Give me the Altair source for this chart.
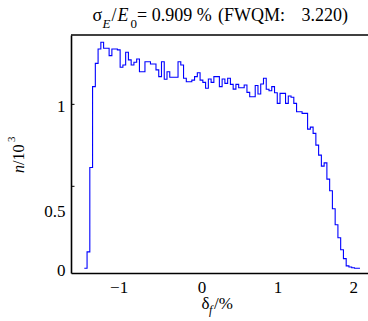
import altair as alt
import numpy as np
import pandas as pd

# histogram counts (n / 10^3), 100 bins
counts = [0.0, 0.10, 0.615, 1.108, 1.250, 1.338, 1.379, 1.342, 1.342, 1.297,
          1.338, 1.338, 1.332, 1.226, 1.240, 1.318, 1.271, 1.240, 1.257, 1.277,
          1.199, 1.199, 1.260, 1.260, 1.246, 1.246, 1.210, 1.169, 1.260, 1.153,
          1.199, 1.165, 1.165, 1.165, 1.260, 1.240, 1.159, 1.138, 1.138, 1.148,
          1.169, 1.193, 1.148, 1.134, 1.098, 1.155, 1.134, 1.169, 1.169, 1.108,
          1.155, 1.128, 1.159, 1.122, 1.093, 1.122, 1.101, 1.101, 1.118, 1.073,
          1.046, 1.046, 1.115, 1.063, 1.124, 1.159, 1.092, 1.083, 1.108, 1.071,
          1.006, 1.067, 1.067, 1.006, 1.051, 1.043, 1.006, 0.955, 0.955, 0.945,
          0.945, 0.849, 0.861, 0.823, 0.751, 0.690, 0.623, 0.643, 0.544, 0.473,
          0.363, 0.266, 0.186, 0.113, 0.059, 0.015, 0.008, 0.003, 0.0, 0.0]
bin_start = -1.5441
bin_width = 0.03632

x_ticks = [-1, 0, 1, 2]
y_ticks = [0, 0.5, 1]
x_domain = [-1.7194, 2.1937]
y_domain = [-0.0287, 1.423]

W, H = 297, 238
FONT = "Liberation Serif"

edges = bin_start + bin_width * np.arange(len(counts) + 1)
df = pd.DataFrame({"x": edges, "n": counts + [counts[-1]]})

XS = alt.Scale(domain=x_domain, nice=False, zero=False)
YS = alt.Scale(domain=y_domain, nice=False, zero=False)

hist = alt.Chart(df).mark_line(
    interpolate="step-after", color="#0000ff", strokeWidth=1.1
).encode(
    x=alt.X("x:Q", scale=XS, axis=alt.Axis(
        values=x_ticks, title=None, grid=False, ticks=False,
        domainColor="black", domainWidth=1.6, labelFont=FONT,
        labelFontSize=17, labelColor="black", labelPadding=6,
        format="~g",
        labelOffset={"condition": {"test": "datum.value == -1", "value": -7},
                     "value": 0})),
    y=alt.Y("n:Q", scale=YS, axis=alt.Axis(
        values=y_ticks, title=None, grid=False, ticks=False,
        domainColor="black", domainWidth=1.6, labelFont=FONT,
        labelFontSize=17, labelColor="black", labelPadding=6,
        format="~g",
        labelOffset={"condition": {"test": "datum.value == 0.5", "value": 25},
                     "value": 2})),
)

ytick_df = pd.DataFrame({"v": [v for v in y_ticks if v > 0]})
one_row = pd.DataFrame({"v": [0]})

yticks = alt.Chart(ytick_df).mark_rule(color="black", strokeWidth=1).encode(
    y=alt.Y("v:Q", scale=YS), x=alt.value(0), x2=alt.value(3.5))
top_border = alt.Chart(one_row).mark_rule(color="black", strokeWidth=1.6).encode(
    x=alt.value(0), x2=alt.value(W + 5), y=alt.value(0))


def txt(s, x, y, size=16, italic=False, angle=0, align="left"):
    kw = dict(font=FONT, fontSize=size, color="black", align=align,
              baseline="alphabetic", text=s)
    if italic:
        kw["fontStyle"] = "italic"
    if angle:
        kw["angle"] = angle
    return alt.Chart(one_row).mark_text(**kw).encode(
        x=alt.value(x - 71), y=alt.value(y - 35))


texts = [
    txt("σ", 92.5, 21, 18),
    txt("E", 102.5, 28, 13, italic=True),
    txt("/", 111.5, 21, 18),
    txt("E", 117.5, 21, 18, italic=True),
    txt("0", 130.5, 28, 13),
    txt("= 0.909 %", 137, 21, 18),
    txt("(FWQM:", 218, 21, 18),
    txt("3.220)", 348, 21, 18, align="right"),
    # x title
    txt("δ", 201.5, 309, 17),
    txt("f", 209, 314, 12, italic=True),
    txt("/%", 214, 309, 17),
    # y title
    txt("n", 24, 173, 16, italic=True, angle=270),
    txt("/10", 24, 165, 16, angle=270),
    txt("3", 15, 142, 11, angle=270),
]

chart = alt.layer(hist, yticks, top_border, *texts).properties(
    width=W, height=H,
    padding={"left": 71, "top": 35, "right": 0, "bottom": 48},
    autosize=alt.AutoSizeParams(type="none"),
    background="white",
).configure_view(stroke=None)

chart.save("out.html", embed_options={"renderer": "svg", "actions": False})
